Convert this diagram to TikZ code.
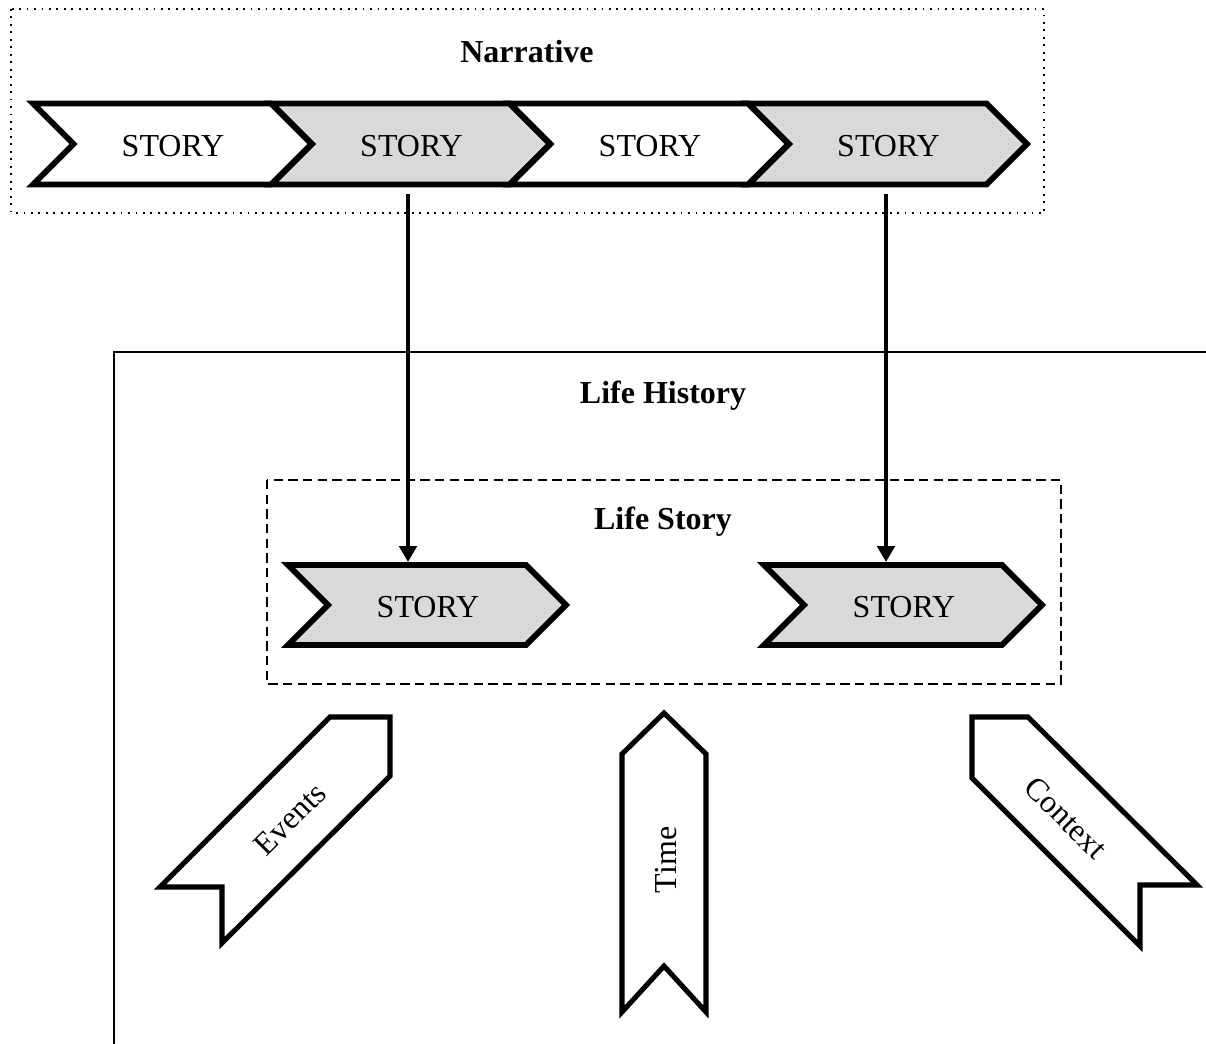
\documentclass[tikz,border=0pt]{standalone}
\usepackage{fontspec}
\setmainfont{Liberation Serif}
\usetikzlibrary{arrows.meta}
\definecolor{chevgray}{HTML}{D9D9D9}
\tikzset{
  chevline/.style={line width=4.4pt, line join=miter, draw=black},
  ribbon/.style={line width=3.8pt, line join=miter, draw=black, fill=white},
  lbl/.style={font=\fontsize{24}{28}\selectfont, inner sep=0pt},
  blbl/.style={font=\fontsize{24}{28}\selectfont\bfseries, inner sep=0pt},
  flow/.style={line width=3.3pt, -{Triangle[length=12pt,width=13pt]}},
  dotbox/.style={line width=1.4pt, dash pattern=on 1.4pt off 4.2pt},
  dashbox/.style={line width=1.1pt, dash pattern=on 7pt off 4pt},
  histline/.style={line width=1.3pt}
}
% #1 start x, #2 mid y, #3 half height, #4 fill, #5 text name
\newcommand\mychev[5]{%
  \draw[chevline,fill=#4] (#1,#2-#3) -- ++(238,0) -- ++(#3,#3) -- ++(-#3,#3)
     -- ++(-238,0) -- ++(#3,-#3) -- cycle;
  \node[lbl] (#5) at (#1+140,#2+2.5) {STORY};}
\begin{document}
\begin{tikzpicture}[x=0.75pt,y=-0.75pt]
\useasboundingbox (0,0) rectangle (1206,1044);

% Narrative
\draw[dotbox] (11,9) rectangle (1044,213);
\node[blbl] (narr) at (527,52) {Narrative};
\mychev{33}{144}{40.5}{white}{n1}
\mychev{271.5}{144}{40.5}{chevgray}{n2}
\mychev{510}{144}{40.5}{white}{n3}
\mychev{748.5}{144}{40.5}{chevgray}{n4}

% Life History
\draw[histline] (1215,352) -- (114,352) -- (114,1055);
\node[blbl] (hist) at (663,396) {Life History};

% Life Story
\draw[dashbox] (267,480) rectangle (1061,684);
\node[blbl] (lstory) at (663,522) {Life Story};
\mychev{288}{605}{40}{chevgray}{s1}
\mychev{764}{605}{40}{chevgray}{s2}

% connectors
\coordinate (n2b) at (408,194);
\coordinate (s1t) at (408,562);
\coordinate (n4b) at (886,194);
\coordinate (s2t) at (886,562);
\draw[flow] (n2b) -- (s1t);
\draw[flow] (n4b) -- (s2t);

% ribbons
\draw[ribbon] (330,717) -- (390,717) -- (390,776) -- (222,943) -- (222,887) -- (160,887) -- cycle;
\node[lbl, rotate=45] (events) at (290,819) {Events};

\draw[ribbon] (664,713) -- (706,754) -- (706,1012) -- (664,966) -- (622,1012) -- (622,754) -- cycle;
\node[lbl, rotate=90] (time) at (666,860) {Time};

\draw[ribbon] (972,717) -- (1028,717) -- (1197,885) -- (1140,885) -- (1140,946) -- (972,778) -- cycle;
\node[lbl, rotate=-45] (context) at (1066,818) {Context};
\end{tikzpicture}
\end{document}
